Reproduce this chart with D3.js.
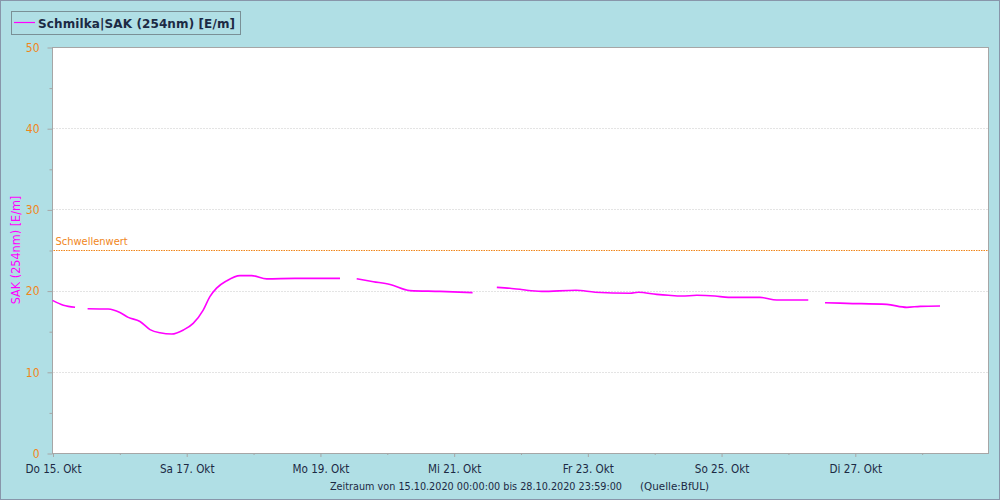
<!DOCTYPE html>
<html><head><meta charset="utf-8">
<script src="https://cdn.jsdelivr.net/npm/d3@7"></script>
<style>
html,body{margin:0;padding:0;background:#b0dfe5;}
svg{display:block;}
</style></head>
<body>
<script>
// ---- data ----
const startDate = "2020-10-15T00:00:00";
const endDate = "2020-10-29T00:00:00";
// hours since start; null value = gap
const hoursOffset = [0, 3.9, 8.1, 10, 12.6, 20, 24.2, 27.2, 31.4, 35, 38.6, 42.8, 47, 50.5, 54.1, 56.5, 58.9, 62.5, 67.3, 71.5, 76.9, 87, 94.8, 103.2, 106, 109.2, 115.2, 121.2, 128.3, 139.1, 150.8, 155, 159.5, 164.2, 167.8, 170.2, 175.6, 187.9, 194.8, 207.3, 210.3, 216.9, 221.1, 225.9, 231.3, 237.8, 242.6, 254, 260, 271.3, 274, 277.3, 285.1, 299.5, 306.7, 311.5, 318.6];
const sakValues = [18.8, 18.2, 17.95, null, 17.77, 17.73, 17.3, 16.7, 16.2, 15.2, 14.8, 14.65, 15.15, 15.97, 17.6, 19.25, 20.3, 21.2, 21.85, 21.85, 21.45, 21.5, 21.5, 21.5, null, 21.45, 21.1, 20.75, 20.0, 19.9, 19.75, null, 20.4, 20.28, 20.16, 20.04, 19.9, 20.04, 19.8, 19.67, 19.79, 19.54, 19.42, 19.33, 19.42, 19.33, 19.17, 19.17, 18.84, 18.84, null, 18.51, 18.43, 18.3, 17.94, 18.06, 18.1];
const yTicks = [0, 10, 20, 30, 40, 50];
const yMinorTicks = [5, 15, 25, 35, 45];
const weekdayNames = ["So", "Mo", "Di", "Mi", "Do", "Fr", "Sa"];
const threshold = 25;
const seriesName = "Schmilka|SAK (254nm) [E/m]";
const yTitle = "SAK (254nm) [E/m]";
const thresholdLabel = "Schwellenwert";
const footerText = "Zeitraum von 15.10.2020 00:00:00 bis 28.10.2020 23:59:00";
const sourceText = "(Quelle:BfUL)";

// ---- layout ----
const W = 1000, H = 500;
const m = {left: 52.5, right: 988.5, top: 47, bottom: 453};
const fontTick = "Tahoma, 'DejaVu Sans Condensed', 'Liberation Sans', Arial, sans-serif";

const t0 = new Date(startDate), t1 = new Date(endDate);
const data = hoursOffset.map((h, i) => ({t: new Date(t0.getTime() + h * 3600e3), v: sakValues[i]}));

const x = d3.scaleTime().domain([t0, t1]).range([m.left, m.right]);
const y = d3.scaleLinear().domain([0, 50]).range([m.bottom, m.top]);

const svg = d3.select("body").append("svg").attr("width", W).attr("height", H);
svg.append("rect").attr("x", 0.5).attr("y", 0.5).attr("width", W - 1).attr("height", H - 1)
  .attr("fill", "#b0dfe5").attr("stroke", "#8896aa").attr("stroke-width", 1);

// plot area
svg.append("rect").attr("x", m.left).attr("y", m.top + 0.5)
  .attr("width", m.right - m.left).attr("height", m.bottom - m.top)
  .attr("fill", "#fff").attr("stroke", "#a6a6a6").attr("stroke-width", 1);

// grid
svg.append("g").selectAll("line").data(yTicks.filter(d => d > 0 && d < 50)).join("line")
  .attr("x1", m.left + 1).attr("x2", m.right - 1)
  .attr("y1", d => Math.round(y(d)) + 0.5).attr("y2", d => Math.round(y(d)) + 0.5)
  .attr("stroke", "#c8c8c8").attr("stroke-dasharray", "1,2");

// y axis
const yAxis = d3.axisLeft(y).tickValues(yTicks).tickSize(5).tickPadding(8).tickFormat(d3.format("d"));
const yg = svg.append("g").attr("transform", `translate(${m.left},0.5)`).call(yAxis);
yg.select(".domain").remove();
yg.selectAll(".tick line").attr("stroke", "#a6a6a6");
yg.selectAll(".tick text").attr("fill", "#f0861a").attr("font-family", fontTick).attr("font-size", 12);
const yMinor = d3.axisLeft(y).tickValues(yMinorTicks).tickSize(3).tickFormat("");
const ymg = svg.append("g").attr("transform", `translate(${m.left},0.5)`).call(yMinor);
ymg.select(".domain").remove();
ymg.selectAll(".tick line").attr("stroke", "#a6a6a6");

// x axis
const xAxis = d3.axisBottom(x).tickValues(d3.range(0, 14, 2).map(i => d3.timeDay.offset(t0, i)))
  .tickSize(4).tickPadding(8)
  .tickFormat(d => `${weekdayNames[d.getDay()]} ${d.getDate()}. Okt`);
const xg = svg.append("g").attr("transform", `translate(0.5,${m.bottom})`).call(xAxis);
xg.select(".domain").remove();
xg.selectAll(".tick line").attr("stroke", "#a6a6a6");
xg.selectAll(".tick text").attr("fill", "#1c2a44").attr("font-family", fontTick).attr("font-size", 11.6);
const xMinor = d3.axisBottom(x).tickValues(d3.range(1, 14, 2).map(i => d3.timeDay.offset(t0, i)))
  .tickSize(2).tickFormat("");
const xmg = svg.append("g").attr("transform", `translate(0.5,${m.bottom})`).call(xMinor);
xmg.select(".domain").remove();
xmg.selectAll(".tick line").attr("stroke", "#a6a6a6");

// threshold
svg.append("line").attr("x1", m.left + 1).attr("x2", m.right - 1)
  .attr("y1", Math.round(y(threshold)) + 0.5).attr("y2", Math.round(y(threshold)) + 0.5)
  .attr("stroke", "#f0861a").attr("stroke-width", 1).attr("stroke-dasharray", "1.5,1");
svg.append("text").attr("x", m.left + 3).attr("y", y(threshold) - 5)
  .attr("fill", "#f0861a").attr("font-family", fontTick).attr("font-size", 11).text(thresholdLabel);

// series
const line = d3.line().defined(d => d.v !== null).x(d => x(d.t)).y(d => y(d.v)).curve(d3.curveMonotoneX);
svg.append("path").datum(data).attr("d", line).attr("fill", "none")
  .attr("stroke", "#ff00ff").attr("stroke-width", 1.6);

// y title
svg.append("text").attr("transform", `translate(20,${(m.top + m.bottom) / 2}) rotate(-90)`)
  .attr("text-anchor", "middle").attr("fill", "#ff00ff")
  .attr("font-family", fontTick).attr("font-size", 12.5).text(yTitle);

// legend
svg.append("rect").attr("x", 11.5).attr("y", 11.5).attr("width", 229).attr("height", 23)
  .attr("fill", "#b0dfe5").attr("stroke", "#7a9096");
svg.append("line").attr("x1", 14).attr("x2", 35).attr("y1", 22.5).attr("y2", 22.5)
  .attr("stroke", "#ff00ff").attr("stroke-width", 1.2);
svg.append("text").attr("x", 38).attr("y", 27.5).attr("fill", "#1c2a44")
  .attr("font-family", "Verdana, 'DejaVu Sans', sans-serif").attr("font-weight", "bold").attr("font-size", 12)
  .attr("textLength", 197).attr("lengthAdjust", "spacing")
  .text(seriesName);

// footer
svg.append("text").attr("x", 330).attr("y", 490).attr("fill", "#1c2a44")
  .attr("font-family", fontTick).attr("font-size", 11)
  .attr("textLength", 292).attr("lengthAdjust", "spacingAndGlyphs").text(footerText);
svg.append("text").attr("x", 640).attr("y", 490).attr("fill", "#1c2a44")
  .attr("font-family", fontTick).attr("font-size", 11)
  .attr("textLength", 69).attr("lengthAdjust", "spacingAndGlyphs").text(sourceText);
</script>
</body></html>
